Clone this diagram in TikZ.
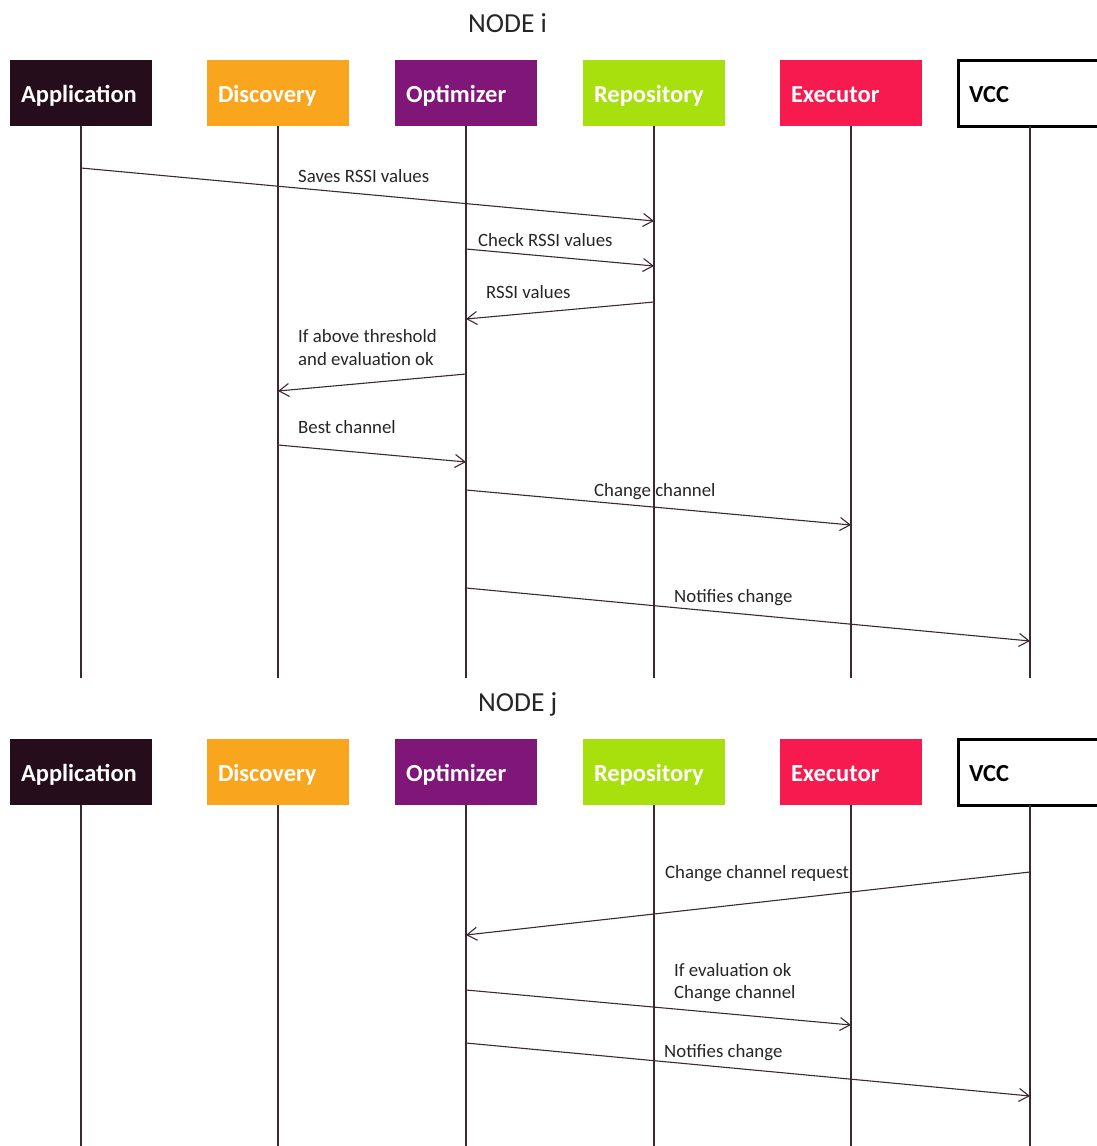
\documentclass[tikz,border=0pt]{standalone}
\usepackage{fontspec}
\setmainfont{Carlito}
\usetikzlibrary{arrows.meta}
\definecolor{appc}{HTML}{260D1C}
\definecolor{discc}{HTML}{F9A61E}
\definecolor{optc}{HTML}{801677}
\definecolor{repc}{HTML}{A8E00E}
\definecolor{exc}{HTML}{F71A4F}
\definecolor{linec}{HTML}{3C2832}
\begin{document}
\begin{tikzpicture}[x=1pt,y=-1pt,
  actor/.style={minimum width=142pt, minimum height=66pt, inner sep=0pt,
    text width=120pt, align=left, text height=18pt, text depth=0pt,
    font=\fontsize{24.5}{28}\selectfont\bfseries, text=white},
  vccbox/.style={actor, draw=black, line width=3pt, fill=white, text=black,
    minimum width=152pt, text width=130pt},
  lifeline/.style={draw=linec, line width=1.1pt},
  msg/.style={draw=linec, line width=1.1pt, -{Straight Barb[length=10pt,width=13pt,line width=1.1pt]}},
  lbl/.style={anchor=base west, inner sep=0pt, font=\fontsize{18.8}{22.5}\selectfont, text=black!85},
  ttl/.style={anchor=base west, inner sep=0pt, font=\fontsize{27.5}{31}\selectfont, text=black!85}]
\clip (0,0) rectangle (1097,1146);
\fill[white] (0,0) rectangle (1097,1146);

% ---------- NODE i ----------
\node[ttl] (ti) at (468,32) {NODE i};
\node[actor, fill=appc] (app1) at (81,93) {Application};
\node[actor, fill=discc] (dis1) at (278,93) {Discovery};
\node[actor, fill=optc] (opt1) at (466,93) {Optimizer};
\node[actor, fill=repc] (rep1) at (654,93) {Repository};
\node[actor, fill=exc] (exe1) at (851,93) {Executor};
\node[vccbox] (vcc1) at (1034,93) {VCC};

\coordinate (app1e) at (81,678);
\coordinate (dis1e) at (278,678);
\coordinate (opt1e) at (466,678);
\coordinate (rep1e) at (654,678);
\coordinate (exe1e) at (851,678);
\coordinate (vcc1t) at (1030,126);
\coordinate (vcc1e) at (1030,678);
\draw[lifeline] (app1.south) -- (app1e);
\draw[lifeline] (dis1.south) -- (dis1e);
\draw[lifeline] (opt1.south) -- (opt1e);
\draw[lifeline] (rep1.south) -- (rep1e);
\draw[lifeline] (exe1.south) -- (exe1e);
\draw[lifeline] (vcc1t) -- (vcc1e);

% message end points
\coordinate (a1) at (81,168);  \coordinate (b1) at (654,221);
\coordinate (a2) at (466,249); \coordinate (b2) at (654,266);
\coordinate (a3) at (654,302); \coordinate (b3) at (466,319);
\coordinate (a4) at (466,374); \coordinate (b4) at (278,391);
\coordinate (a5) at (278,445); \coordinate (b5) at (466,462);
\coordinate (a6) at (466,490); \coordinate (b6) at (851,525);
\coordinate (a7) at (466,588); \coordinate (b7) at (1030,641);

\draw[msg] (a1) -- (b1);
\draw[msg] (a2) -- (b2);
\draw[msg] (a3) -- (b3);
\draw[msg] (a4) -- (b4);
\draw[msg] (a5) -- (b5);
\draw[msg] (a6) -- (b6);
\draw[msg] (a7) -- (b7);

\node[lbl] (l1) at (298,182) {Saves RSSI values};
\node[lbl] (l2) at (478,246) {Check RSSI values};
\node[lbl] (l3) at (486,298) {RSSI values};
\node[lbl] (l4a) at (298,342) {If above threshold};
\node[lbl] (l4b) at (298,365) {and evaluation ok};
\node[lbl] (l5) at (298,433) {Best channel};
\node[lbl] (l6) at (594,496) {Change channel};
\node[lbl] (l7) at (674,602) {Notifies change};

% ---------- NODE j ----------
\node[ttl] (tj) at (478,711) {NODE j};
\node[actor, fill=appc] (app2) at (81,772) {Application};
\node[actor, fill=discc] (dis2) at (278,772) {Discovery};
\node[actor, fill=optc] (opt2) at (466,772) {Optimizer};
\node[actor, fill=repc] (rep2) at (654,772) {Repository};
\node[actor, fill=exc] (exe2) at (851,772) {Executor};
\node[vccbox] (vcc2) at (1034,772) {VCC};

\coordinate (app2e) at (81,1150);
\coordinate (dis2e) at (278,1150);
\coordinate (opt2e) at (466,1150);
\coordinate (rep2e) at (654,1150);
\coordinate (exe2e) at (851,1150);
\coordinate (vcc2t) at (1030,805);
\coordinate (vcc2e) at (1030,1150);
\draw[lifeline] (app2.south) -- (app2e);
\draw[lifeline] (dis2.south) -- (dis2e);
\draw[lifeline] (opt2.south) -- (opt2e);
\draw[lifeline] (rep2.south) -- (rep2e);
\draw[lifeline] (exe2.south) -- (exe2e);
\draw[lifeline] (vcc2t) -- (vcc2e);

\coordinate (a8) at (1030,872);  \coordinate (b8) at (466,935);
\coordinate (a9) at (466,990);   \coordinate (b9) at (851,1025);
\coordinate (a10) at (466,1043); \coordinate (b10) at (1030,1096);

\draw[msg] (a8) -- (b8);
\draw[msg] (a9) -- (b9);
\draw[msg] (a10) -- (b10);

\node[lbl] (l8) at (665,878) {Change channel request};
\node[lbl] (l9a) at (674,976) {If evaluation ok};
\node[lbl] (l9b) at (674,998) {Change channel};
\node[lbl] (l10) at (664,1057) {Notifies change};
\end{tikzpicture}
\end{document}
